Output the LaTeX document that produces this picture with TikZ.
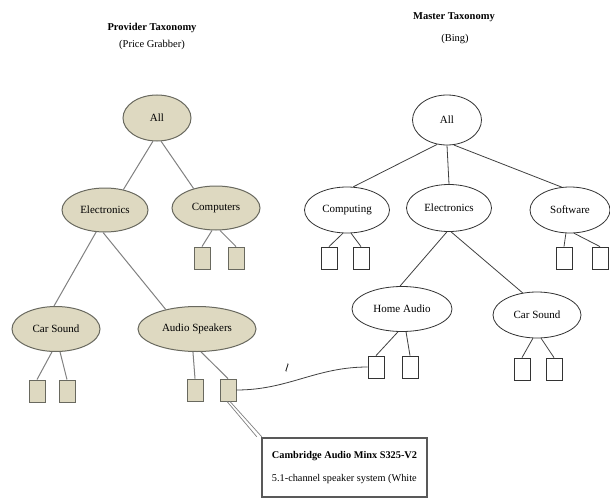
\documentclass[tikz,border=0pt]{standalone}
\usepackage{fontspec}
\setmainfont{Liberation Serif}
\usetikzlibrary{positioning,shapes.geometric}
\definecolor{provfill}{RGB}{222,217,193}
\definecolor{provline}{RGB}{105,105,95}
\newcommand{\leafpair}[6]{
  % #1 parent, #2 box style, #3 edge style, #4 #5 x of the boxes, #6 y
  \node[#2] (#1-a) at (#4,#6) {};
  \node[#2] (#1-b) at (#5,#6) {};
  \draw[#3] (#1.-100) -- (#1-a.north);
  \draw[#3] (#1.-80) -- (#1-b.north);
}

\begin{document}
\begin{tikzpicture}[x=1pt,y=-1pt,
  provcat/.style={ellipse,draw=provline,fill=provfill,line width=1pt,inner sep=0pt,font=\fontsize{11}{13}\selectfont},
  mastcat/.style={ellipse,draw=black!80,fill=white,line width=0.8pt,inner sep=0pt,font=\fontsize{11}{13}\selectfont},
  provleaf/.style={rectangle,draw=provline,fill=provfill,line width=0.9pt,minimum width=16pt,minimum height=22pt,inner sep=0pt},
  mastleaf/.style={rectangle,draw=black!80,fill=white,line width=0.8pt,minimum width=16pt,minimum height=22pt,inner sep=0pt},
  provedge/.style={draw=black!50,line width=1pt},
  mastedge/.style={draw=black!75,line width=0.8pt},
  taxtitle/.style={font=\bfseries\fontsize{10.5}{12}\selectfont},
  taxsub/.style={font=\fontsize{10.5}{12}\selectfont}]
\useasboundingbox (0,0) rectangle (610,500);

% provider side
\node[taxtitle] (ptitle) at (152,28) {Provider Taxonomy};
\node[taxsub] (psub) at (152,45) {(Price Grabber)};
\node[provcat,minimum width=68pt,minimum height=46pt] (pall) at (157,118) {All};
\node[provcat,minimum width=86pt,minimum height=44pt] (pelec) at (105,210) {Electronics};
\node[provcat,minimum width=88pt,minimum height=44pt] (pcomp) at (216,208) {Computers};
\node[provcat,minimum width=88pt,minimum height=45pt] (pcar) at (56,329) {Car Sound};
\node[provcat,minimum width=118pt,minimum height=45pt] (paspk) at (197,329) {Audio Speakers};
\draw[provedge] (pall.-100) -- (pelec.48);
\draw[provedge] (pall.-80) -- (pcomp.139);
\draw[provedge] (pelec.-112) -- (pcar.95);
\draw[provedge] (pelec.-95) -- (paspk.148);

% master side
\node[taxtitle] (mtitle) at (454,17) {Master Taxonomy};
\node[taxsub] (msub) at (455,39) {(Bing)};
\node[mastcat,minimum width=69pt,minimum height=50pt] (mall) at (447,120) {All};
\node[mastcat,minimum width=85pt,minimum height=46pt] (mcomp) at (347,210) {Computing};
\node[mastcat,minimum width=85pt,minimum height=47pt] (melec) at (449,208) {Electronics};
\node[mastcat,minimum width=80pt,minimum height=46pt] (msoft) at (570,210) {Software};
\node[mastcat,minimum width=100pt,minimum height=45pt] (mhome) at (402,309) {Home Audio};
\node[mastcat,minimum width=88pt,minimum height=46pt] (mcar) at (537,315) {Car Sound};
\draw[mastedge] (mall.-112) -- (mcomp.75);
\draw[mastedge] (mall.south) -- (melec.north);
\draw[mastedge] (mall.-75) -- (msoft.110);
\draw[mastedge] (melec.-95) -- (mhome.95);
\draw[mastedge] (melec.-85) -- (mcar.123);

% items under the leaf categories
\foreach \p/\xa/\xb/\y in {pcomp/202/236/258, pcar/37/67/391, paspk/195/228/390} {
  \leafpair{\p}{provleaf}{provedge}{\xa}{\xb}{\y}
}
\foreach \p/\xa/\xb/\y in {mcomp/329/361/258, msoft/564/600/258, mhome/376/410/367, mcar/522/554/369} {
  \leafpair{\p}{mastleaf}{mastedge}{\xa}{\xb}{\y}
}

% mapping of the item
\draw[mastedge] (paspk-b.east) to[out=0,in=180] (mhome-a.west);
\node[font=\itshape\fontsize{11}{13}\selectfont,rotate=-8] (lbl) at (287,368) {l};

% callout
\node[draw=black!65,line width=2.5pt,fill=white,minimum width=165pt,minimum height=59pt,align=left,
  font=\fontsize{10.3}{23}\selectfont] (item) at (344.5,467.5)
  {\textbf{Cambridge Audio Minx S325-V2}\\5.1-channel speaker system (White};
\draw[provedge,line width=0.7pt] ([xshift=-1pt]paspk-b.south) -- ([xshift=-4pt]item.north west);
\draw[provedge,line width=0.7pt] ([xshift=2pt]paspk-b.south) -- ([xshift=1pt]item.north west);
\end{tikzpicture}
\end{document}
